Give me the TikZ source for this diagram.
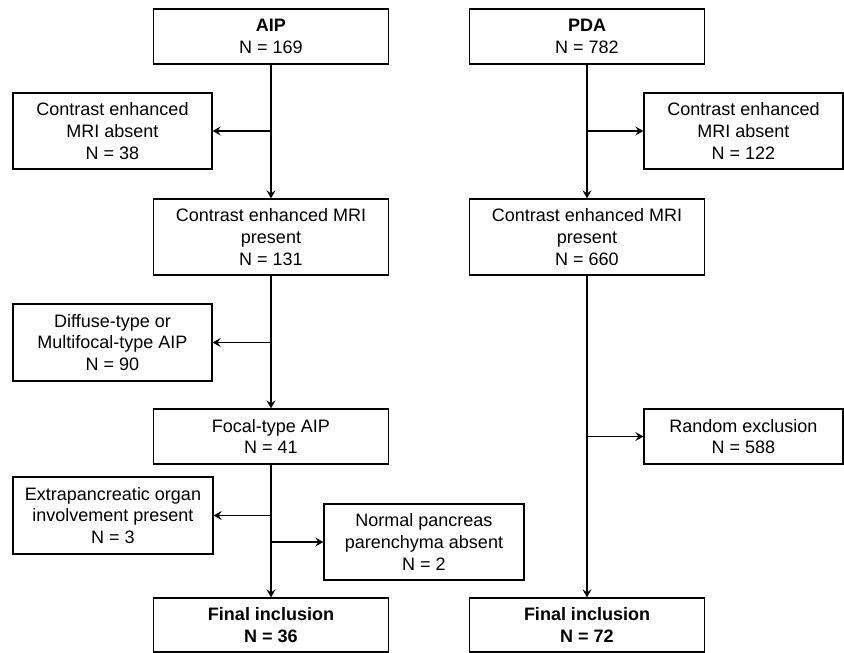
\documentclass[tikz,border=0pt]{standalone}
\usepackage{fontspec}
\setmainfont{Liberation Sans}
\usetikzlibrary{arrows.meta}
\tikzset{
  box/.style={draw, line width=1.3pt, align=center, inner sep=0pt,
    font=\fontsize{18}{21.7}\selectfont},
  colbox/.style={box, minimum width=235pt},
  sidebox/.style={box, minimum width=199pt},
  arr/.style={line width=1.3pt, -{Stealth[length=8pt,width=9pt,inset=3pt]}},
  ln/.style={line width=1.3pt}
}
\begin{document}
\begin{tikzpicture}[x=1pt,y=-1pt]
\useasboundingbox (0,0) rectangle (844,653);
% left column
\node[colbox, minimum height=55pt] (aip) at (271,36.5) {\textbf{AIP}\\N = 169};
\node[sidebox, minimum height=76pt] (absL) at (112.5,131) {Contrast enhanced\\MRI absent\\N = 38};
\node[colbox, minimum height=76pt] (ceL) at (271,237) {Contrast enhanced MRI\\present\\N = 131};
\node[sidebox, minimum height=77pt] (diff) at (112.5,342.5) {Diffuse-type or\\Multifocal-type AIP\\N = 90};
\node[colbox, minimum height=55pt] (focal) at (271,436.5) {Focal-type AIP\\N = 41};
\node[box, minimum width=200pt, minimum height=77pt] (extra) at (113,515.5) {Extrapancreatic organ\\involvement present\\N = 3};
\node[box, minimum width=200pt, minimum height=76pt] (norm) at (424,542) {Normal pancreas\\parenchyma absent\\N = 2};
\node[colbox, minimum height=54pt] (finL) at (271,625) {\textbf{Final inclusion}\\\textbf{N = 36}};
% right column
\node[colbox, minimum height=55pt] (pda) at (587,36.5) {\textbf{PDA}\\N = 782};
\node[sidebox, minimum height=76pt] (absR) at (743.5,131) {Contrast enhanced\\MRI absent\\N = 122};
\node[colbox, minimum height=76pt] (ceR) at (587,237) {Contrast enhanced MRI\\present\\N = 660};
\node[sidebox, minimum height=55pt] (rand) at (743.5,436.5) {Random exclusion\\N = 588};
\node[colbox, minimum height=54pt] (finR) at (587,625) {\textbf{Final inclusion}\\\textbf{N = 72}};
% branch points
\coordinate (b1) at (271,131);
\coordinate (b2) at (271,342.5);
\coordinate (b3) at (271,515.5);
\coordinate (b4) at (271,542);
\coordinate (b5) at (587,131);
\coordinate (b6) at (587,436.5);
% connectors
\draw[arr] (aip) -- (ceL);
\draw[arr] (b1) -- (absL);
\draw[arr] (ceL) -- (focal);
\draw[arr] (b2) -- (diff);
\draw[arr] (focal) -- (finL);
\draw[arr] (b3) -- (extra);
\draw[arr] (b4) -- (norm);
\draw[arr] (pda) -- (ceR);
\draw[arr] (b5) -- (absR);
\draw[arr] (ceR) -- (finR);
\draw[arr] (b6) -- (rand);
\end{tikzpicture}
\end{document}
